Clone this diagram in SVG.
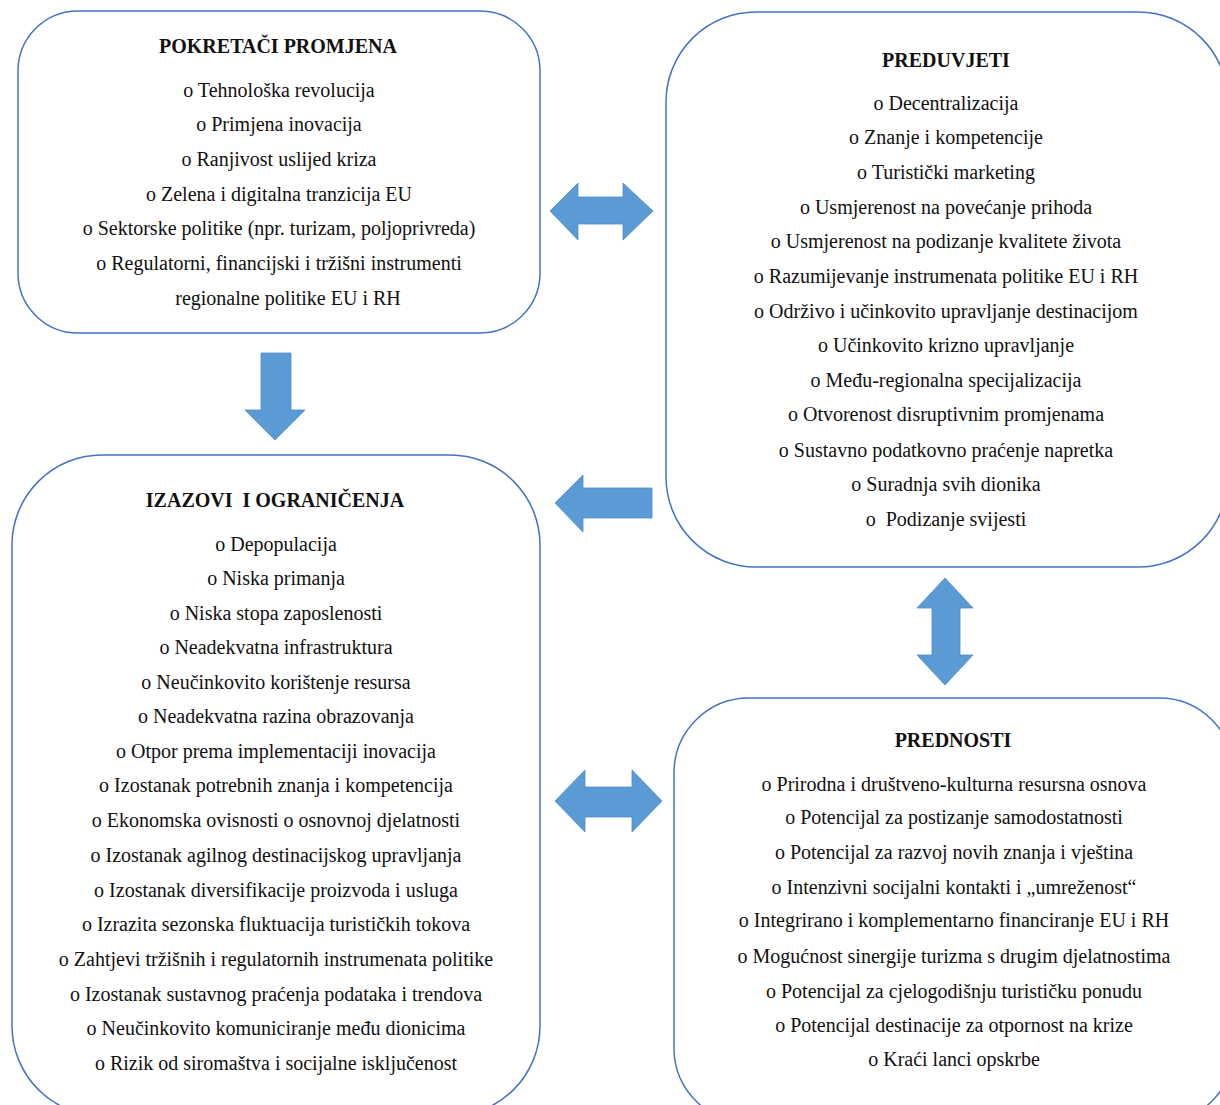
<svg xmlns="http://www.w3.org/2000/svg" width="1220" height="1105" viewBox="0 0 1220 1105">
<style>
.box{fill:#ffffff;stroke:#4472C4;stroke-width:1.5}
.arr{fill:#5B9BD5;stroke:#4E8BC8;stroke-width:0.8}
text{font-family:"Liberation Serif","Times New Roman",serif;font-size:20px;fill:#111;text-anchor:middle;white-space:pre}
.t{font-weight:bold;font-size:20px}
</style>
<rect width="1220" height="1105" fill="#ffffff"/>
<g id="connectors">
<polygon class="arr" points="550,211 578,183 578,197 623,197 623,183 653,211 623,240 623,224 578,224 578,240"/>
<polygon class="arr" points="261,353 291,353 291,410 305,410 275,440 245,410 261,410"/>
<polygon class="arr" points="555,503 583,475 583,488 652,488 652,518 583,518 583,532"/>
<polygon class="arr" points="945,578 973,608 960,608 960,655 973,655 945,685 917,655 932,655 932,608 917,608"/>
<polygon class="arr" points="555,801 585,770 585,787 632,787 632,770 662,801 632,832 632,817 585,817 585,832"/>
</g>
<g id="pokretaci">
<rect class="box" x="18" y="11" width="522" height="322" rx="60" ry="60"/>
<text class="t" x="278" y="53">POKRETAČI PROMJENA</text>
<text x="279" y="97">o Tehnološka revolucija</text>
<text x="279" y="131">o Primjena inovacija</text>
<text x="279" y="166">o Ranjivost uslijed kriza</text>
<text x="279" y="201">o Zelena i digitalna tranzicija EU</text>
<text x="279" y="235">o Sektorske politike (npr. turizam, poljoprivreda)</text>
<text x="279" y="270">o Regulatorni, financijski i tržišni instrumenti</text>
<text x="288" y="305">regionalne politike EU i RH</text>
</g>
<g id="preduvjeti">
<rect class="box" x="666" y="12" width="562" height="555" rx="90" ry="90"/>
<text class="t" x="946" y="67">PREDUVJETI</text>
<text x="946" y="110">o Decentralizacija</text>
<text x="946" y="144">o Znanje i kompetencije</text>
<text x="946" y="179">o Turistički marketing</text>
<text x="946" y="214">o Usmjerenost na povećanje prihoda</text>
<text x="946" y="248">o Usmjerenost na podizanje kvalitete života</text>
<text x="946" y="283">o Razumijevanje instrumenata politike EU i RH</text>
<text x="946" y="318">o Održivo i učinkovito upravljanje destinacijom</text>
<text x="946" y="352">o Učinkovito krizno upravljanje</text>
<text x="946" y="387">o Među-regionalna specijalizacija</text>
<text x="946" y="421">o Otvorenost disruptivnim promjenama</text>
<text x="946" y="457">o Sustavno podatkovno praćenje napretka</text>
<text x="946" y="491">o Suradnja svih dionika</text>
<text x="946" y="526">o  Podizanje svijesti</text>
</g>
<g id="izazovi">
<rect class="box" x="12" y="455" width="528" height="661" rx="90" ry="90"/>
<text class="t" x="275" y="507">IZAZOVI  I OGRANIČENJA</text>
<text x="276" y="551">o Depopulacija</text>
<text x="276" y="585">o Niska primanja</text>
<text x="276" y="620">o Niska stopa zaposlenosti</text>
<text x="276" y="654">o Neadekvatna infrastruktura</text>
<text x="276" y="689">o Neučinkovito korištenje resursa</text>
<text x="276" y="723">o Neadekvatna razina obrazovanja</text>
<text x="276" y="758">o Otpor prema implementaciji inovacija</text>
<text x="276" y="792">o Izostanak potrebnih znanja i kompetencija</text>
<text x="276" y="827">o Ekonomska ovisnosti o osnovnoj djelatnosti</text>
<text x="276" y="862">o Izostanak agilnog destinacijskog upravljanja</text>
<text x="276" y="897">o Izostanak diversifikacije proizvoda i usluga</text>
<text x="276" y="931">o Izrazita sezonska fluktuacija turističkih tokova</text>
<text x="276" y="966">o Zahtjevi tržišnih i regulatornih instrumenata politike</text>
<text x="276" y="1001">o Izostanak sustavnog praćenja podataka i trendova</text>
<text x="276" y="1035">o Neučinkovito komuniciranje među dionicima</text>
<text x="276" y="1070">o Rizik od siromaštva i socijalne isključenost</text>
</g>
<g id="prednosti">
<rect class="box" x="674" y="698" width="560" height="425" rx="75" ry="75"/>
<text class="t" x="953" y="747">PREDNOSTI</text>
<text x="954" y="791">o Prirodna i društveno-kulturna resursna osnova</text>
<text x="954" y="824">o Potencijal za postizanje samodostatnosti</text>
<text x="954" y="859">o Potencijal za razvoj novih znanja i vještina</text>
<text x="954" y="894">o Intenzivni socijalni kontakti i „umreženost“</text>
<text x="954" y="927">o Integrirano i komplementarno financiranje EU i RH</text>
<text x="954" y="963">o Mogućnost sinergije turizma s drugim djelatnostima</text>
<text x="954" y="998">o Potencijal za cjelogodišnju turističku ponudu</text>
<text x="954" y="1032">o Potencijal destinacije za otpornost na krize</text>
<text x="954" y="1066">o Kraći lanci opskrbe</text>
</g>
</svg>
